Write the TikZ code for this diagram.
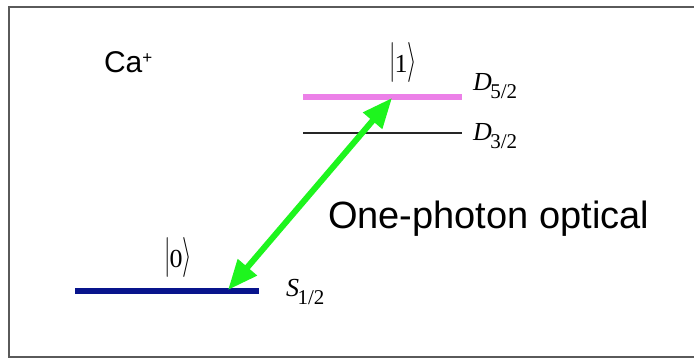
\documentclass[tikz,border=0pt]{standalone}
\usepackage{graphicx}
\usepackage{fontspec}
\setmainfont{Liberation Sans}
\newfontfamily\tnr{Liberation Serif}
\usetikzlibrary{arrows.meta}
\definecolor{levelpink}{RGB}{236,128,232}
\definecolor{levelblue}{RGB}{8,20,140}
\definecolor{arrowgreen}{RGB}{30,245,30}
\definecolor{framegray}{RGB}{90,90,90}
\newcommand{\lvl}[2]{{\tnr\fontsize{26}{26}\selectfont\itshape #1\kern-1.5pt\raisebox{-8pt}{\upshape\fontsize{21}{21}\selectfont #2}}}
\newcommand{\myket}[1]{{\fontsize{10}{12}\selectfont\scalebox{2.3}[4]{$|$}\kern-1pt{\tnr\fontsize{26}{26}\selectfont #1}\kern0pt\scalebox{2.4}[4]{$\rangle$}}}
\tikzset{
  every node/.style={inner sep=0pt, outer sep=0pt},
  thinlevel/.style={line width=1.5pt, black!85},
  thicklevel/.style={line width=6.5pt},
  ketlabel/.style={anchor=base},
  termlabel/.style={anchor=base west},
  photon/.style={line width=6pt, arrowgreen, {Triangle[length=30pt,width=24pt]}-{Triangle[length=30pt,width=24pt]}},
}
\begin{document}
\begin{tikzpicture}[x=1pt,y=1pt]
\useasboundingbox (0,0) rectangle (694,360);
\fill[white] (0,0) rectangle (694,360);
\draw[framegray, line width=1.5pt] (9,3) rectangle (720,353);

% levels
\coordinate (d5l) at (303,263);
\coordinate (d5r) at (462,263);
\coordinate (d3l) at (303,227);
\coordinate (d3r) at (462,227);
\coordinate (s1l) at (75,69);
\coordinate (s1r) at (259,69);
\draw[thicklevel, levelpink] (d5l) -- (d5r);
\draw[thinlevel] (d3l) -- (d3r);
\draw[thicklevel, levelblue] (s1l) -- (s1r);

% transition arrow
\coordinate (up) at (392,262);
\coordinate (down) at (228,70);
\draw[photon] (down) -- (up);

% labels
\node[anchor=west, font=\fontsize{30}{30}\selectfont] (ca) at (104,298) {Ca\raisebox{9pt}{\fontsize{17}{17}\selectfont +}};
\node[ketlabel] (ket1) at (403,288) {\myket{1}};
\node[ketlabel] (ket0) at (178,93) {\myket{0}};
\node[termlabel] (d52) at (473,270) {\lvl{D}{5/2}};
\node[termlabel] (d32) at (473,220) {\lvl{D}{3/2}};
\node[termlabel] (s12) at (286,64) {\lvl{S}{1/2}};
\node[anchor=base west, font=\fontsize{38}{38}\selectfont] (label) at (328,132) {One-photon optical};
\end{tikzpicture}
\end{document}
